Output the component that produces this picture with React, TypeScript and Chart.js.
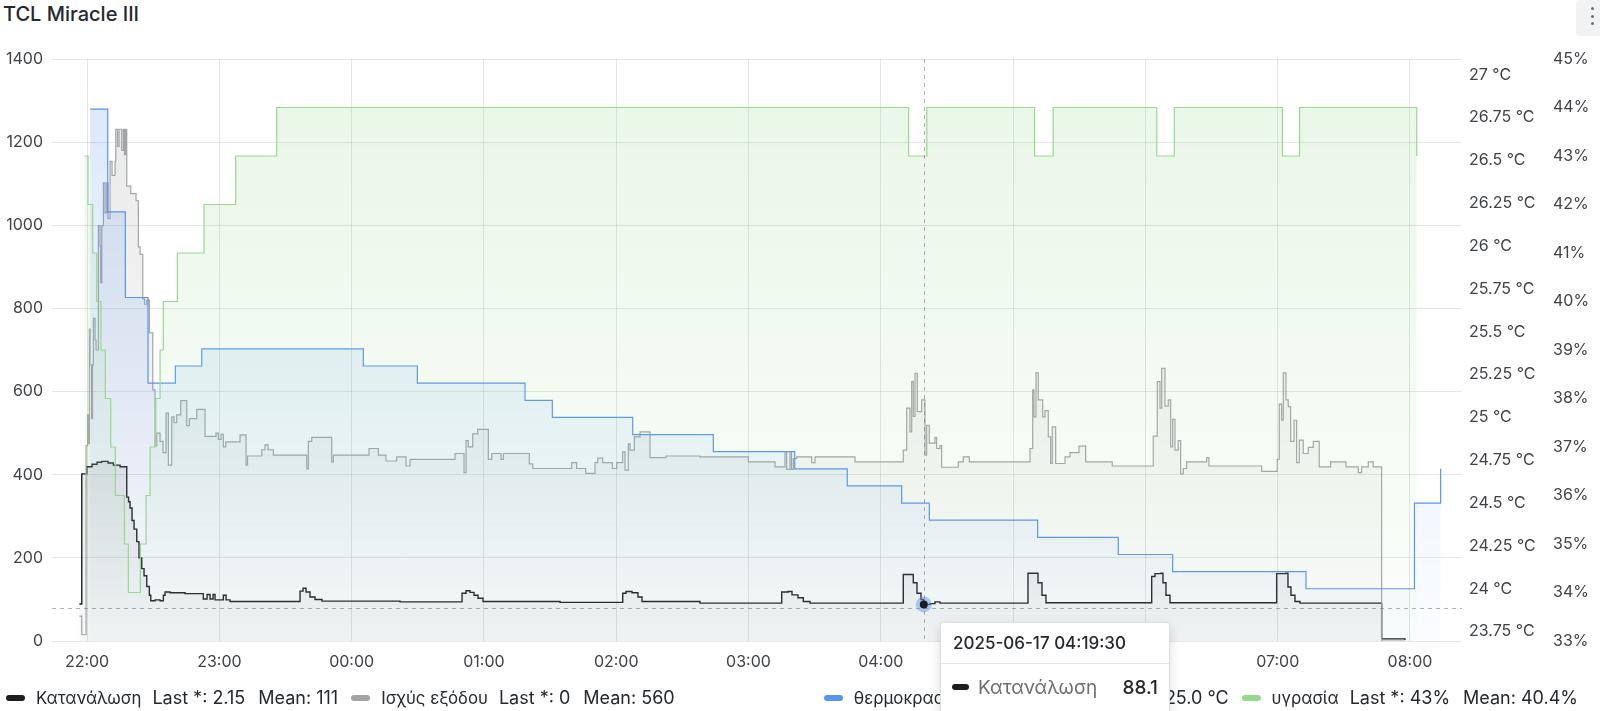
import React, { useEffect, useRef } from "react";
import { Chart, registerables } from "chart.js";

Chart.register(...registerables);

// All times are minutes after 2025-06-16 22:00
const consumptionMinutes = [
  -3.49, -2.4, -0.14, 2.27, 4.54, 6.67, 9.52, 11.93, 14.97, 18.0, 18.82, 19.5, 20.41, 21.32, 22.54, 23.58,
  24.81, 25.85, 27.07, 28.25, 28.89, 30.84, 33.11, 34.6, 35.37, 37.64, 44.44, 52.74, 54.42, 55.78, 57.14,
  58.05, 61.81, 63.04, 64.86, 96.6, 97.96, 99.32, 101.13, 103.4, 106.57, 141.95, 170.07, 171.88, 173.7,
  175.51, 177.33, 179.59, 214.51, 242.95, 244.44, 247.16, 249.88, 251.7, 278.0, 315.06, 317.92, 319.73,
  322.45, 324.85, 327.89, 370.2, 374.74, 376.41, 378.23, 379.5, 382.3, 384.57, 386.84, 426.75, 431.29,
  433.1, 434.92, 482.86, 484.35, 487.07, 487.98, 489.34, 491.16, 539.54, 543.76, 544.67, 546.03, 547.84,
  550.11, 587.16, 597.73,
];
const consumptionWatts = [
  89, 402, 419, 425, 430, 432, 428, 423, 419, 346, 335, 320, 290, 269, 239, 200,
  174, 157, 131, 110, 97, 99, 97, 110, 118, 116, 114, 101, 112, 101, 112,
  99, 110, 99, 95, 120, 127, 118, 106, 100, 96, 94, 115, 121, 117,
  110, 103, 95, 93, 115, 119, 116, 106, 95, 91, 118, 119, 111,
  104, 95, 91, 160, 140, 115, 100, 88.1, 90, 94, 91, 163, 140,
  110, 92, 155, 162, 163, 140, 110, 92, 162, 163, 130, 110, 95,
  91, 5, 2.15,
];

const outputMinutes = [
  -3.49, -2.4, -0.45, 0.23, 0.68, 1.04, 1.36, 2.04, 2.49, 2.86, 3.63, 4.08, 5.12, 5.9, 6.21, 6.67, 7.39,
  8.16, 8.93, 9.52, 10.43, 11.34, 12.7, 13.02, 13.83, 14.51, 15.74, 16.46, 17.01, 17.46, 18.0, 19.82,
  22.22, 23.27, 24.04, 25.26, 26.08, 27.07, 28.25, 29.8, 30.84, 31.61, 33.11, 34.47, 35.83, 36.87, 38.41,
  39.45, 40.68, 42.49, 45.21, 46.39, 49.75, 53.51, 58.5, 59.55, 60.77, 61.81, 62.9, 69.39, 72.11, 72.79,
  79.23, 80.72, 82.09, 84.49, 99.64, 100.36, 101.9, 110.97, 111.7, 127.89, 132.11, 135.6, 140.45, 144.67,
  146.48, 166.89, 170.97, 171.88, 172.92, 174.92, 177.19, 181.99, 183.54, 187.75, 188.8, 200.59, 202.13,
  219.81, 222.08, 226.17, 230.38, 231.61, 233.87, 238.23, 240.22, 242.94, 243.99, 245.48, 246.26, 248.21,
  250.79, 255.33, 262.58, 278.0, 299.91, 312.01, 316.55, 317.32, 318.82, 319.5, 320.32, 321.86, 328.66,
  330.16, 348.3, 370.2, 371.74, 373.24, 374.01, 374.74, 375.51, 376.55, 378.54, 380.04, 380.81, 381.99,
  384.58, 385.35, 386.84, 387.61, 395.14, 397.41, 400.13, 427.66, 428.88, 429.47, 430.38, 431.42, 433.42,
  434.46, 435.96, 437.05, 437.77, 439.31, 443.53, 445.8, 449.88, 452.92, 464.98, 483.58, 485.39, 486.62,
  487.39, 488.88, 490.38, 491.47, 492.38, 493.42, 494.92, 496.0, 497.18, 498.72, 507.79, 508.83, 532.74,
  539.81, 540.72, 541.81, 542.53, 543.76, 544.8, 545.89, 547.39, 548.61, 549.79, 551.61, 553.87, 556.14,
  558.86, 564.03, 570.97, 576.55, 578.09, 581.08, 583.35, 587.16, 597.73,
];
const outputWatts = [
  60, 15, 470, 544, 475, 750, 664, 535, 664, 776, 724, 700, 999, 950, 862, 999, 1102,
  1030, 1102, 1016, 1154, 1120, 1154, 1231, 1190, 1231, 1180, 1231, 1170, 1231, 1094, 1076,
  1059, 948, 930, 823, 810, 820, 741, 604, 470, 500, 480, 453, 548, 423, 539,
  525, 544, 578, 518, 535, 557, 492, 500, 485, 497, 467, 479, 496, 423, 445,
  460, 472, 460, 447, 414, 480, 490, 431, 447, 463, 447, 433, 443, 421,
  437, 451, 405, 482, 467, 498, 509, 437, 451, 437, 451, 426, 415,
  429, 415, 403, 429, 440, 429, 415, 429, 455, 411, 474, 459, 491,
  503, 441, 445, 443, 431, 419, 455, 413, 455, 413, 439, 443, 429,
  443, 431, 459, 560, 503, 624, 540, 644, 552, 580, 447, 519, 476,
  490, 463, 470, 418, 431, 443, 431, 463, 604, 539, 645, 580, 539,
  554, 491, 427, 515, 427, 443, 453, 469, 431, 421, 493, 624, 560,
  656, 565, 580, 467, 533, 459, 482, 402, 415, 431, 441, 421, 408,
  437, 570, 531, 645, 580, 564, 480, 531, 429, 483, 451, 466, 480,
  419, 431, 419, 405, 419, 431, 419, 0, 0,
];

const temperatureMinutes = [
  1.36, 9.39, 17.37, 27.66, 40.04, 52.02, 125.31, 149.8, 198.64, 211.02, 247.48, 284.03, 320.95, 344.8,
  369.47, 381.99, 431.15, 467.71, 492.38, 552.83, 602.03, 613.91,
];
const temperatureCelsius = [
  26.8, 26.2, 25.7, 25.2, 25.3, 25.4, 25.3, 25.2, 25.1, 25.0, 24.9, 24.8, 24.7, 24.6,
  24.5, 24.4, 24.3, 24.2, 24.1, 24.0, 24.5, 24.7,
];

const humidityMinutes = [
  -1.22, 0.45, 2.59, 4.4, 6.35, 8.3, 10.75, 12.83, 16.92, 18.73, 24.17, 26.76, 28.57, 31.16, 33.11, 34.6,
  40.95, 53.06, 67.44, 86.03, 372.6, 380.86, 429.75, 438.18, 485.17, 493.11, 542.17, 549.93, 603.08,
];
const humidityPercent = [
  43, 42, 41, 40, 39, 38, 37, 36, 35, 34, 35, 36, 37, 38, 39, 40,
  41, 42, 43, 44, 43, 44, 43, 44, 43, 44, 43, 44, 43,
];

const hourTickMinutes = [0, 60, 120, 180, 240, 300, 360, 420, 480, 540, 600];
const hourTickLabels = ["22:00", "23:00", "00:00", "01:00", "02:00", "03:00", "04:00", "05:00", "06:00", "07:00", "08:00"];
const powerTicks = [0, 200, 400, 600, 800, 1000, 1200, 1400];
const temperatureTicks = [23.75, 24, 24.25, 24.5, 24.75, 25, 25.25, 25.5, 25.75, 26, 26.25, 26.5, 26.75, 27];
const humidityTicks = [33, 34, 35, 36, 37, 38, 39, 40, 41, 42, 43, 44, 45];

const seriesNames = ["Κατανάλωση", "Ισχύς εξόδου", "θερμοκρασία", "υγρασία"];
const seriesLast = ["2.15", "0", "24.7 °C", "43%"];
const seriesMean = ["111", "560", "25.0 °C", "40.4%"];
const seriesColors = ["#1c1e21", "#a2a4a8", "#5794F2", "#96D98D"];
const seriesRgb = ["32,34,38", "150,152,156", "87,148,242", "150,217,141"];

const hoverMinute = 379.5;
const hoverCursorWatts = 80;
const hoverTimeLabel = "2025-06-17 04:19:30";

const TEXT = "#24292e";
const AXIS_TEXT = "#3f4347";
const GRID = "rgba(36,41,46,0.12)";

function toPoints(xs: number[], ys: number[]) {
  return xs.map((x, i) => ({ x, y: ys[i] }));
}

function gradientFill(rgb: string, alpha: number) {
  return (ctx: any) => {
    const chart = ctx.chart;
    const area = chart.chartArea;
    if (!area) return `rgba(${rgb},${alpha})`;
    const g = chart.ctx.createLinearGradient(0, area.top, 0, area.bottom);
    g.addColorStop(0, `rgba(${rgb},${alpha})`);
    g.addColorStop(1, `rgba(${rgb},${alpha * 0.12})`);
    return g;
  };
}

export default function App() {
  const canvasRef = useRef<HTMLCanvasElement | null>(null);
  const tipRef = useRef<HTMLDivElement | null>(null);

  const hoverIndex = consumptionMinutes.indexOf(hoverMinute);
  const hoverValue = consumptionWatts[hoverIndex];

  useEffect(() => {
    const canvas = canvasRef.current;
    if (!canvas) return;

    const crosshair = {
      id: "crosshair",
      afterDatasetsDraw(chart: any) {
        const { ctx, chartArea, scales } = chart;
        const x = scales.x.getPixelForValue(hoverMinute);
        const y = scales.y.getPixelForValue(hoverValue);
        const cy = scales.y.getPixelForValue(hoverCursorWatts);
        ctx.save();
        ctx.strokeStyle = "rgba(120,122,128,0.6)";
        ctx.lineWidth = 1;
        ctx.setLineDash([4, 4]);
        ctx.beginPath();
        ctx.moveTo(Math.round(x) + 0.5, chartArea.top);
        ctx.lineTo(Math.round(x) + 0.5, chartArea.bottom);
        ctx.moveTo(chartArea.left, Math.round(cy) + 0.5);
        ctx.lineTo(chartArea.right, Math.round(cy) + 0.5);
        ctx.stroke();
        ctx.setLineDash([]);
        ctx.fillStyle = "rgba(87,148,242,0.45)";
        ctx.beginPath();
        ctx.arc(x, y, 8, 0, Math.PI * 2);
        ctx.fill();
        ctx.fillStyle = "#1c1e21";
        ctx.beginPath();
        ctx.arc(x, y, 4, 0, Math.PI * 2);
        ctx.fill();
        ctx.restore();
      },
    };

    const tickFont = { family: "Inter", size: 16 };

    const chart = new Chart(canvas, {
      type: "line",
      data: {
        datasets: [
          {
            label: seriesNames[0],
            data: toPoints(consumptionMinutes, consumptionWatts),
            yAxisID: "y",
            borderColor: seriesColors[0],
            backgroundColor: gradientFill(seriesRgb[0], 0.22),
            borderWidth: 1.4,
            stepped: "before",
            pointRadius: 0,
            fill: "start",
            order: 4,
          },
          {
            label: seriesNames[1],
            data: toPoints(outputMinutes, outputWatts),
            yAxisID: "y",
            borderColor: seriesColors[1],
            backgroundColor: gradientFill(seriesRgb[1], 0.22),
            borderWidth: 1.2,
            stepped: "before",
            pointRadius: 0,
            fill: "start",
            order: 3,
          },
          {
            label: seriesNames[2],
            data: toPoints(temperatureMinutes, temperatureCelsius),
            yAxisID: "yTemp",
            borderColor: seriesColors[2],
            backgroundColor: gradientFill(seriesRgb[2], 0.22),
            borderWidth: 1.2,
            stepped: "before",
            pointRadius: 0,
            fill: "start",
            order: 2,
          },
          {
            label: seriesNames[3],
            data: toPoints(humidityMinutes, humidityPercent),
            yAxisID: "yHum",
            borderColor: seriesColors[3],
            backgroundColor: gradientFill(seriesRgb[3], 0.22),
            borderWidth: 1.2,
            stepped: "before",
            pointRadius: 0,
            fill: "start",
            order: 1,
          },
        ],
      },
      options: {
        animation: false,
        responsive: false,
        devicePixelRatio: 1,
        events: [],
        layout: { padding: { top: 59, bottom: 30, left: 0, right: 0 } },
        plugins: { legend: { display: false }, tooltip: { enabled: false }, title: { display: false } },
        scales: {
          x: {
            type: "linear",
            min: -15.9,
            max: 623.6,
            afterBuildTicks: (scale: any) => {
              scale.ticks = hourTickMinutes.map((v) => ({ value: v }));
            },
            afterFit: (scale: any) => {
              scale.height = 40;
            },
            ticks: {
              autoSkip: false,
              maxRotation: 0,
              padding: 12,
              color: AXIS_TEXT,
              font: tickFont,
              callback: (_v: any, i: number) => hourTickLabels[i],
            },
            grid: { color: GRID, drawTicks: false },
            border: { display: false },
          },
          y: {
            position: "left",
            min: 0,
            max: 1400,
            afterBuildTicks: (scale: any) => {
              scale.ticks = powerTicks.map((v) => ({ value: v }));
            },
            afterFit: (scale: any) => {
              scale.width = 52;
            },
            ticks: { padding: 9, color: AXIS_TEXT, font: tickFont, callback: (v: any) => String(v) },
            grid: { color: GRID, drawTicks: false },
            border: { display: false },
          },
          yTemp: {
            position: "right",
            weight: 0,
            min: 23.695,
            max: 27.092,
            afterBuildTicks: (scale: any) => {
              scale.ticks = temperatureTicks.map((v) => ({ value: v }));
            },
            afterFit: (scale: any) => {
              scale.width = 83;
            },
            ticks: { padding: 7, color: AXIS_TEXT, font: tickFont, callback: (v: any) => `${v} °C` },
            grid: { display: false, drawTicks: false },
            border: { display: false },
          },
          yHum: {
            position: "right",
            weight: 1,
            min: 33,
            max: 45,
            afterBuildTicks: (scale: any) => {
              scale.ticks = humidityTicks.map((v) => ({ value: v }));
            },
            afterFit: (scale: any) => {
              scale.width = 55;
            },
            ticks: { padding: 8, color: AXIS_TEXT, font: tickFont, callback: (v: any) => `${v}%` },
            grid: { display: false, drawTicks: false },
            border: { display: false },
          },
        },
      },
      plugins: [crosshair],
    } as any);

    const px = chart.scales.x.getPixelForValue(hoverMinute);
    if (tipRef.current) tipRef.current.style.left = `${Math.round(px) + 16}px`;

    return () => chart.destroy();
  }, []);

  const legendItem = (i: number) => (
    <div key={i} style={{ display: "flex", alignItems: "center", marginRight: 13, whiteSpace: "nowrap" }}>
      <span
        style={{ display: "inline-block", width: 19, height: 6, borderRadius: 3, background: seriesColors[i], marginRight: 11 }}
      />
      <span style={{ fontSize: 16.8 }}>{seriesNames[i]}</span>
      <span style={{ marginLeft: 11 }}>Last *: {seriesLast[i]}</span>
      <span style={{ marginLeft: 13 }}>Mean: {seriesMean[i]}</span>
    </div>
  );

  return (
    <div
      style={{
        position: "absolute",
        left: 0,
        top: 0,
        width: 1600,
        height: 711,
        overflow: "hidden",
        background: "#ffffff",
        fontFamily: "Inter, 'Noto Sans', sans-serif",
        color: TEXT,
      }}
    >
      <div style={{ position: "absolute", left: 3, top: 2, fontSize: 20, fontWeight: 500, lineHeight: "24px" }}>
        TCL Miracle III
      </div>
      <div
        style={{
          position: "absolute",
          right: 0,
          top: 0,
          width: 24,
          height: 36,
          background: "#f1f2f3",
          borderRadius: "4px 0 0 4px",
        }}
      >
        {[7, 14.5, 22].map((t) => (
          <span
            key={t}
            style={{ position: "absolute", left: 14.5, top: t, width: 3.4, height: 3.4, borderRadius: 2, background: "#6b6f75" }}
          />
        ))}
      </div>
      <canvas ref={canvasRef} width={1600} height={711} style={{ position: "absolute", left: 0, top: 0, width: 1600, height: 711 }} />
      <div style={{ position: "absolute", left: 6, top: 687, display: "flex", fontSize: 18, lineHeight: "22px" }}>
        {legendItem(0)}
        {legendItem(1)}
      </div>
      <div style={{ position: "absolute", right: 9, top: 687, display: "flex", fontSize: 18, lineHeight: "22px" }}>
        {legendItem(2)}
        {legendItem(3)}
      </div>
      <div
        ref={tipRef}
        style={{
          position: "absolute",
          left: 940,
          top: 622,
          width: 230,
          height: 130,
          background: "#ffffff",
          border: "1px solid rgba(36,41,46,0.15)",
          borderRadius: 4,
          boxShadow: "0 4px 12px rgba(24,26,27,0.15)",
          boxSizing: "border-box",
          zIndex: 5,
        }}
      >
        <div style={{ padding: "0 12px", height: 40, lineHeight: "40px", fontSize: 17, fontWeight: 500, borderBottom: "1px solid rgba(36,41,46,0.12)" }}>
          {hoverTimeLabel}
        </div>
        <div style={{ display: "flex", alignItems: "center", padding: "0 11px", height: 46 }}>
          <span style={{ display: "inline-block", width: 17, height: 6, borderRadius: 3, background: seriesColors[0], marginRight: 9 }} />
          <span style={{ color: "rgba(36,41,46,0.68)", fontSize: 19 }}>{seriesNames[0]}</span>
          <span style={{ marginLeft: "auto", fontSize: 19, fontWeight: 500 }}>{hoverValue}</span>
        </div>
      </div>
    </div>
  );
}
